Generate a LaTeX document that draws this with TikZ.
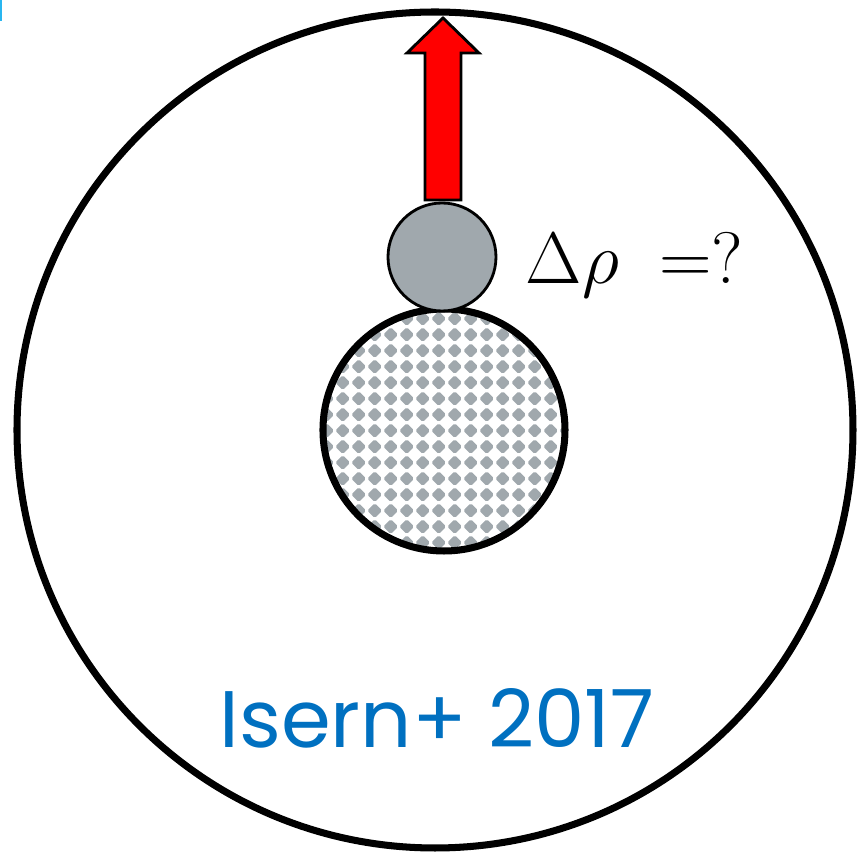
\documentclass[tikz,border=0pt]{standalone}
\usepackage{fontspec}
\usetikzlibrary{calc}
\newfontfamily\labelfont{Poppins}
\definecolor{coregrey}{HTML}{A0A8AD}
\definecolor{isernblue}{HTML}{0070C0}
\definecolor{tickblue}{HTML}{29B6F0}
\begin{document}
\begin{tikzpicture}[x=0.01cm,y=-0.01cm,
  outline/.style={draw=black},
  ]
\useasboundingbox (0,0) rectangle (859,852);
\clip (0,0) rectangle (859,852);
\fill[tickblue] (0,0) rectangle (2,21);
% outer circle
\node[circle, outline, line width=2pt, minimum size=836*0.01cm, inner sep=0pt] (star) at (435,430) {};
% core with diamond pattern
\coordinate (corec) at (444,430);
\begin{scope}
  \clip (corec) circle (122);
  \foreach \i in {-9,...,9}{
    \foreach \j in {-9,...,9}{
      \fill[coregrey] ($(corec)+(\i*16-5.3,\j*16+0.7)$) +(-6.3,-1.2) -- +(-1.2,-6.3) -- +(1.2,-6.3) -- +(6.3,-1.2) -- +(6.3,1.2) -- +(1.2,6.3) -- +(-1.2,6.3) -- +(-6.3,1.2) -- cycle;
    }
  }
\end{scope}
\node[circle, outline, line width=2pt, minimum size=242*0.01cm, inner sep=0pt] (core) at (corec) {};
% small bubble
\node[circle, outline, fill=coregrey, line width=0.8pt, minimum size=108*0.01cm, inner sep=0pt] (bubble) at (442,257) {};
% arrow
\coordinate (abase) at (443,200);
\draw[fill=red, line width=0.8pt, line join=miter]
  (425,200) -- (425,53) -- (407,53) -- (443,18) -- (479,53) -- (461,53) -- (461,200) -- cycle;
% labels
\node[anchor=base west, inner sep=0pt, font=\fontsize{22}{26}\selectfont] (drho) at (525,284) {$\Delta\rho\;=?$};
\node[anchor=base, inner sep=0pt, text=isernblue, font=\labelfont\fontsize{22.8}{26}\selectfont] (ref) at (437,748) {Isern+ 2017};
\end{tikzpicture}
\end{document}
